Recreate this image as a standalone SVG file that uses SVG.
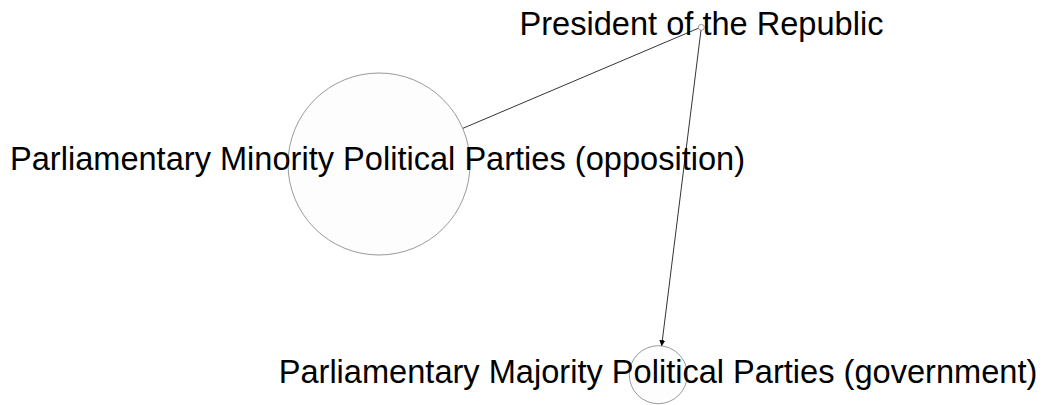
<svg xmlns="http://www.w3.org/2000/svg" width="1047" height="405" viewBox="0 0 1047 405">
<style>
.n{fill:#fdfdfd;stroke:#808080;stroke-width:0.8}
.e{stroke:#000;stroke-width:0.8;fill:none}
.t{font-family:"Liberation Sans",Arial,sans-serif;font-size:32.6px;fill:#000;text-anchor:middle}
</style>
<defs>
<marker id="a" viewBox="0 0 10 10" refX="10" refY="5" markerWidth="6" markerHeight="6" markerUnits="userSpaceOnUse" orient="auto">
<path d="M0,0L10,5L0,10z" fill="#000"/>
</marker>
</defs>
<g id="edges">
<line class="e" x1="699" y1="28" x2="462.7" y2="128.4"/>
<line class="e" x1="701" y1="30" x2="661.6" y2="346.2" marker-end="url(#a)"/>
</g>
<g id="minority">
<circle class="n" cx="379" cy="164" r="91"/>
<text class="t" x="377.5" y="170">Parliamentary Minority Political Parties (opposition)</text>
</g>
<g id="majority">
<circle class="n" cx="658.3" cy="374.7" r="29"/>
<text class="t" x="658" y="382.5">Parliamentary Majority Political Parties (government)</text>
</g>
<g id="president">
<circle class="n" cx="701.3" cy="27.3" r="3"/>
<text class="t" x="701.5" y="35">President of the Republic</text>
</g>
</svg>
